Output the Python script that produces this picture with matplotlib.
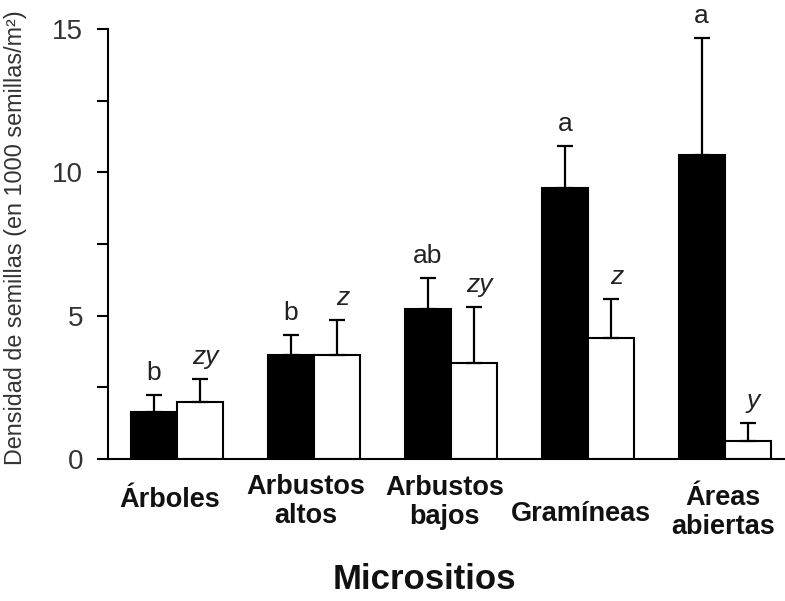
import numpy as np
import matplotlib.pyplot as plt
from matplotlib import transforms

plt.rcParams['font.family'] = ['Liberation Sans', 'DejaVu Sans']

# --- datos: densidad de semillas por micrositio (media + EE) ---
micrositios = ['Árboles', 'Arbustos\naltos', 'Arbustos\nbajos', 'Gramíneas', 'Áreas\nabiertas']
negras = [1.64, 3.62, 5.22, 9.45, 10.61]
negras_ee = [0.58, 0.70, 1.09, 1.49, 4.10]
blancas = [1.99, 3.62, 3.34, 4.22, 0.61]
blancas_ee = [0.79, 1.22, 1.95, 1.35, 0.62]
letras_negras = ['b', 'b', 'ab', 'a', 'a']
letras_blancas = ['zy', 'z', 'zy', 'z', 'y']

# posiciones de las etiquetas del eje x (y en fraccion de ejes, dx en datos)
etiqueta_y = [-0.097, -0.100, -0.102, -0.130, -0.126]
etiqueta_dx = [-0.055, -0.058, -0.045, -0.05, -0.015]

x = np.arange(len(micrositios))
ancho = 0.336

fig = plt.figure(figsize=(7.85, 6.01), dpi=100)
ax = fig.add_axes([0.1376, 0.237, 0.8624, 0.714])

err_kw = dict(ecolor='black', elinewidth=1.6, capsize=5.5, capthick=1.6)
ax.bar(x - ancho / 2, negras, ancho, color='black', edgecolor='black', linewidth=1.5,
       yerr=[np.zeros(len(x)), negras_ee], error_kw=err_kw, zorder=2)
ax.bar(x + ancho / 2, blancas, ancho, color='white', edgecolor='black', linewidth=1.5,
       yerr=[np.zeros(len(x)), blancas_ee], error_kw=err_kw, zorder=2)

# letras de significancia sobre cada barra
for i in range(len(x)):
    ax.text(x[i] - ancho / 2, negras[i] + negras_ee[i] + 0.35, letras_negras[i],
            ha='center', va='bottom', fontsize=19, color='#222222')
    ax.text(x[i] + ancho / 2 + 0.04, blancas[i] + blancas_ee[i] + 0.35, letras_blancas[i],
            ha='center', va='bottom', fontsize=19, style='italic', color='#222222')

ax.set_xlim(-0.504, 4.44)
ax.set_ylim(0, 15)
ax.set_yticks([0, 5, 10, 15])
ax.set_yticks([2.5, 7.5, 12.5], minor=True)
ax.tick_params(axis='y', which='both', direction='out', length=8, width=1.5,
               labelsize=20, pad=10, labelcolor='#333333')
ax.set_xticks([])

for lado in ['top', 'right']:
    ax.spines[lado].set_visible(False)
ax.spines['left'].set_linewidth(1.5)
ax.spines['bottom'].set_linewidth(1.5)

trans = transforms.blended_transform_factory(ax.transData, ax.transAxes)
for i, nombre in enumerate(micrositios):
    ax.text(x[i] + etiqueta_dx[i], etiqueta_y[i], nombre, transform=trans,
            ha='center', va='center', multialignment='center',
            fontsize=19.5, fontweight='bold', linespacing=1.12, color='#111111')

ax.set_ylabel('Densidad de semillas (en 1000 semillas/m²)', fontsize=16.8, color='#333333')
ax.yaxis.set_label_coords(-0.12, 0.515)

fig.text(0.54, 0.035, 'Micrositios', ha='center', va='center',
         fontsize=25, fontweight='bold', color='#111111')

fig.savefig('out.png', dpi=100)
